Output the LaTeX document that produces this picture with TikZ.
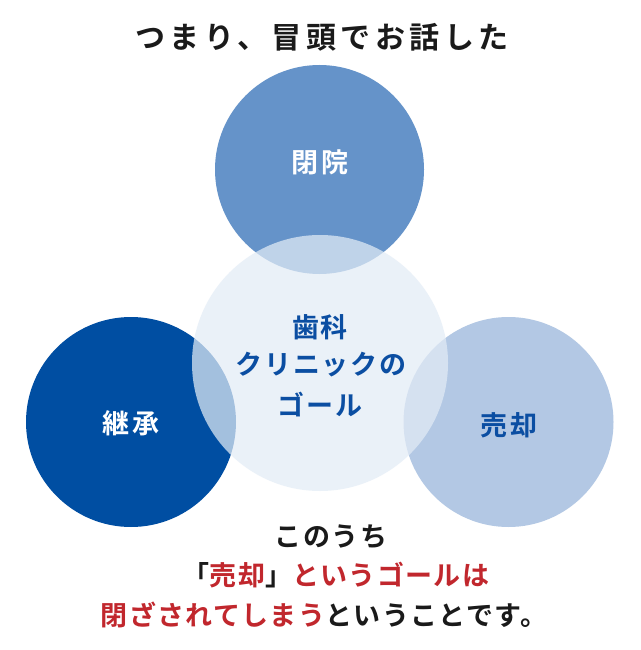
\documentclass[tikz,border=0pt]{standalone}
\usepackage{fontspec}
\setmainfont{Noto Sans CJK JP Bold}
\newfontfamily\jptitle{Noto Sans CJK JP Bold}[LetterSpace=15]
\newfontfamily\jpmid{Noto Sans CJK JP Bold}[LetterSpace=8]
\newfontfamily\jpgoal{Noto Sans CJK JP Bold}[LetterSpace=7]
\newfontfamily\jpbot{Noto Sans CJK JP Bold}[LetterSpace=5]
\definecolor{cTop}{HTML}{6593C9}
\definecolor{cLeft}{HTML}{004EA2}
\definecolor{cRight}{HTML}{B3C8E4}
\definecolor{cMid}{HTML}{E3ECF6}
\definecolor{cBlue}{HTML}{0B4EA2}
\definecolor{cRed}{HTML}{C1272D}
\definecolor{cInk}{HTML}{1A1A1A}
\tikzset{
  disc/.style={circle, draw=none, inner sep=0pt, minimum size=#1},
  title/.style={font=\jptitle\fontsize{30}{30}\selectfont, text=cInk, inner sep=0pt},
  label/.style={font=\jpmid\fontsize{27}{27}\selectfont, inner sep=0pt},
  goal/.style={font=\jpgoal\fontsize{27}{27}\selectfont, text=cBlue, inner sep=0pt},
  note/.style={font=\jpbot\fontsize{27}{27}\selectfont, text=cInk, inner sep=0pt},
}
\begin{document}
\begin{tikzpicture}[x=1pt,y=-1pt]
\useasboundingbox[fill=white] (0,0) rectangle (640,650);
\node[disc=209pt, fill=cTop] (top) at (319.5,169.5) {};
\node[disc=210pt, fill=cLeft] (left) at (131,422) {};
\node[disc=210pt, fill=cRight] (right) at (508.5,422) {};
\node[disc=256pt, fill=cMid, fill opacity=0.72] (mid) at (320,363) {};
\node[title] (t) at (322,37) {つまり、冒頭でお話した};
\node[label, text=white] (l1) at (320,162) {閉院};
\node[label, text=white] (l2) at (131,423) {継承};
\node[label, text=cBlue] (l3) at (509,425) {売却};
\node[goal] (g1) at (320,327) {歯科};
\node[goal] (g2) at (321,365) {クリニックの};
\node[goal] (g3) at (320,405) {ゴール};
\node[note] (n1) at (331,537) {このうち};
\node[note] (n2) at (336,575) {「\textcolor{cRed}{売却}」\textcolor{cRed}{というゴールは}};
\node[note] (n3) at (324,615) {\textcolor{cRed}{閉ざされてしまう}ということです。};
\end{tikzpicture}
\end{document}
